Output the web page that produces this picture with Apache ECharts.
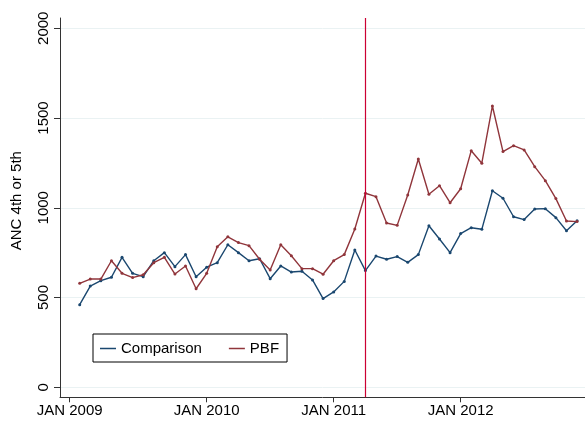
<!DOCTYPE html>
<html>
<head>
<meta charset="utf-8">
<script src="https://cdn.jsdelivr.net/npm/echarts@6/dist/echarts.min.js"></script>
<style>
  html, body { margin: 0; padding: 0; background: #fff; }
  #chart { width: 585px; height: 422px; }
</style>
</head>
<body>
<div id="chart"></div>
<script>
// Monthly values, Jan 2009 .. Dec 2012 (index 0 = Jan 2009)
const comparison = [460, 564, 594, 613, 724, 635, 616, 705, 750, 672, 739, 616,
    669, 694, 794, 750, 705, 716, 605, 676, 642, 646, 598, 494,
    531, 590, 765, 650, 731, 713, 728, 696, 739, 900, 826, 750,
    856, 889, 880, 1095, 1053, 950, 934, 993, 995, 945, 872, 928];
const pbf = [579, 603, 603, 705, 635, 611, 627, 694, 724, 631, 676, 549,
    635, 783, 838, 806, 789, 713, 653, 794, 733, 661, 661, 630,
    705, 739, 882, 1081, 1062, 915, 902, 1071, 1272, 1075, 1123, 1028,
    1106, 1318, 1248, 1567, 1313, 1346, 1322, 1229, 1151, 1051, 926, 923];

const xTickPos = [-0.95, 12, 24, 36];
const xTickLabels = ['JAN 2009', 'JAN 2010', 'JAN 2011', 'JAN 2012'];
const yTicks = [0, 500, 1000, 1500, 2000];
const interventionMonth = 27; // Apr 2011

const font = "'Liberation Sans', Arial, Helvetica, sans-serif";
const navy = '#1a476f';
const maroon = '#90353b';
const cutRed = '#cc0033';

const chart = echarts.init(document.getElementById('chart'));

const toPairs = (arr) => arr.map((v, i) => [i, v]);

chart.setOption({
    backgroundColor: '#fff',
    animation: false,
    grid: { left: 60, right: 0, top: 18, bottom: 24.7, containLabel: false, outerBoundsMode: 'none' },
    legend: {
        left: 93,
        top: 334,
        orient: 'horizontal',
        padding: [7, 8, 6, 7],
        borderColor: '#000',
        borderWidth: 1,
        itemWidth: 16,
        itemHeight: 1.5,
        itemGap: 27,
        itemTextGap: 11,
        icon: 'rect',
        textStyle: { fontFamily: font, fontSize: 15, color: '#000' },
        data: ['Comparison', 'PBF']
    },
    xAxis: {
        type: 'value',
        min: -1.861,
        max: 47.75,
        axisLine: { show: true, onZero: false, lineStyle: { color: '#333', width: 1 } },
        axisTick: { show: true, length: 5, customValues: xTickPos, lineStyle: { color: '#333' } },
        axisLabel: {
            customValues: xTickPos,
            margin: 6,
            fontFamily: font,
            fontSize: 15,
            color: '#000',
            formatter: (v) => {
                const k = xTickPos.findIndex(p => Math.abs(p - v) < 0.01);
                return k >= 0 ? xTickLabels[k] : '';
            }
        },
        splitLine: { show: false }
    },
    yAxis: {
        type: 'value',
        min: -55.7,
        max: 2057,
        name: 'ANC 4th or 5th',
        nameLocation: 'middle',
        nameRotate: 90,
        nameGap: 36,
        nameTextStyle: { fontFamily: font, fontSize: 15, color: '#000', padding: [0, 0, 0, 14] },
        axisLine: { show: true, onZero: false, lineStyle: { color: '#333', width: 1 } },
        axisTick: { show: true, length: 6, customValues: yTicks, lineStyle: { color: '#333' } },
        axisLabel: {
            customValues: yTicks,
            rotate: 90,
            margin: 9,
            fontFamily: font,
            fontSize: 15,
            color: '#000',
            formatter: (v) => String(Math.round(v))
        },
        splitLine: { show: true, lineStyle: { color: '#eaf2f3', width: 1 } }
    },
    series: [
        {
            name: 'Comparison',
            type: 'line',
            data: toPairs(comparison),
            symbol: 'circle',
            symbolSize: 3,
            lineStyle: { color: navy, width: 1.4 },
            itemStyle: { color: navy },
            z: 3
        },
        {
            name: 'PBF',
            type: 'line',
            data: toPairs(pbf),
            symbol: 'circle',
            symbolSize: 3,
            lineStyle: { color: maroon, width: 1.4 },
            itemStyle: { color: maroon },
            z: 4,
            markLine: {
                silent: true,
                symbol: 'none',
                label: { show: false },
                itemStyle: { color: cutRed },
                lineStyle: { color: cutRed, width: 1.2, type: 'solid', opacity: 1 },
                data: [{ xAxis: interventionMonth, lineStyle: { color: cutRed } }]
            }
        }
    ]
});
</script>
</body>
</html>
